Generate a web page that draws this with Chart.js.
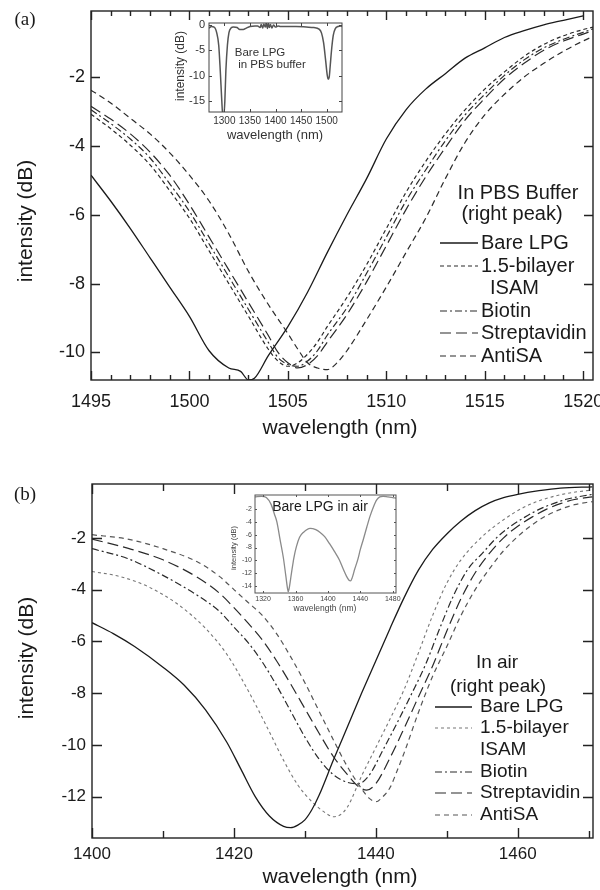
<!DOCTYPE html>
<html>
<head>
<meta charset="utf-8">
<script src="https://cdn.jsdelivr.net/npm/chart.js@4.4.1/dist/chart.umd.min.js"></script>
<style>
  body { margin: 0; background: #fff; }
  #page { position: relative; width: 600px; height: 890px; }
  canvas { position: absolute; }
</style>
</head>
<body>
<div id="page">
  <canvas id="mainA" width="600" height="440" style="left:0;top:0"></canvas>
  <canvas id="mainB" width="600" height="450" style="left:0;top:440px"></canvas>
  <canvas id="insetA" width="200" height="135" style="left:150px;top:10px"></canvas>
  <canvas id="insetB" width="180" height="130" style="left:225px;top:488px"></canvas>
</div>
<script>
const names = ["Bare LPG", "1.5-bilayer\nISAM", "Biotin", "Streptavidin", "AntiSA"];

// (a) in PBS buffer, right peak
const pbsBareWl = [1495, 1496, 1497, 1498, 1499, 1500, 1501, 1502, 1502.6, 1503, 1503.3, 1504, 1505, 1506, 1507, 1508, 1509, 1510, 1511, 1512, 1513, 1514, 1515, 1516, 1517, 1518, 1519, 1520];
const pbsBareDb = [-4.85, -5.6, -6.4, -7.25, -8.1, -8.95, -9.95, -10.45, -10.55, -10.8, -10.75, -10.1, -9.25, -8.25, -7.1, -6.0, -4.95, -3.8, -2.95, -2.35, -1.9, -1.45, -1.15, -0.85, -0.65, -0.48, -0.35, -0.22];

const pbsWl = [1495, 1496, 1497, 1498, 1499, 1500, 1501, 1502, 1503, 1504, 1504.5, 1505, 1505.5, 1506, 1506.5, 1507, 1508, 1509, 1510, 1511, 1512, 1513, 1514, 1515, 1516, 1517, 1518, 1519, 1520, 1520.5];
const pbsIsamDb = [-3.08, -3.5, -3.98, -4.55, -5.3, -6.1, -7.05, -8.0, -8.95, -9.9, -10.25, -10.4, -10.3, -10.05, -9.7, -9.25, -8.4, -7.45, -6.4, -5.35, -4.45, -3.65, -2.95, -2.35, -1.85, -1.4, -1.05, -0.8, -0.62, -0.55];
const pbsBiotinDb = [-2.95, -3.35, -3.8, -4.35, -5.1, -5.9, -6.85, -7.8, -8.75, -9.7, -10.15, -10.35, -10.4, -10.25, -9.95, -9.5, -8.7, -7.7, -6.65, -5.6, -4.7, -3.85, -3.1, -2.5, -1.95, -1.5, -1.15, -0.9, -0.7, -0.6];
const pbsStrepDb = [-2.85, -3.22, -3.65, -4.18, -4.85, -5.7, -6.65, -7.6, -8.55, -9.5, -10.0, -10.3, -10.45, -10.35, -10.1, -9.7, -8.9, -7.95, -6.9, -5.85, -4.9, -4.05, -3.25, -2.62, -2.05, -1.6, -1.22, -0.95, -0.75, -0.65];

const pbsAntiWl = [1495, 1496, 1497, 1498, 1499, 1500, 1501, 1502, 1503, 1504, 1505, 1505.5, 1506, 1506.5, 1507, 1507.5, 1508, 1509, 1510, 1511, 1512, 1513, 1514, 1515, 1516, 1517, 1518, 1519, 1520, 1520.5];
const pbsAntiDb = [-2.38, -2.75, -3.2, -3.65, -4.2, -4.85, -5.6, -6.55, -7.65, -8.6, -9.45, -9.9, -10.3, -10.45, -10.5, -10.3, -9.95, -9.05, -8.1, -7.1, -6.1, -4.95, -3.9, -3.1, -2.5, -2.0, -1.6, -1.25, -0.95, -0.82];

const pbsTicksX = [1495, 1500, 1505, 1510, 1515, 1520];
const pbsTicksY = [-2, -4, -6, -8, -10];

// inset of (a): full spectrum, bare LPG in PBS buffer
const pbsFullWl = [1270, 1275, 1280, 1285, 1289, 1292, 1295, 1297, 1299, 1301, 1303, 1306, 1309, 1313, 1318, 1325, 1330, 1337, 1343, 1350, 1360, 1365, 1370, 1372, 1375, 1377, 1380, 1382, 1384, 1386, 1388, 1390, 1393, 1396, 1400, 1405, 1410, 1420, 1440, 1460, 1475, 1485, 1490, 1494, 1498, 1501, 1503, 1505, 1507, 1510, 1513, 1517, 1522, 1528, 1530];
const pbsFullDb = [-0.6, -0.3, -0.4, -1.5, -4, -9, -15, -18, -18, -15, -9, -4, -1.5, -0.6, -0.4, -0.5, -0.9, -0.9, -0.6, -0.3, -0.2, -0.2, -0.5, 0.1, -0.6, 0.2, -0.4, 0.4, -0.7, 0.3, -0.5, 0.1, -0.6, 0.0, -0.4, -0.2, -0.3, -0.3, -0.3, -0.4, -0.5, -0.8, -1.6, -3.5, -7, -9.8, -10.7, -10.3, -8, -4.5, -2, -0.7, -0.3, -0.2, -0.3];
const pbsFullTicksX = [1300, 1350, 1400, 1450, 1500];
const pbsFullTicksY = [0, -5, -10, -15];

// (b) in air, right peak
const airBareWl = [1400, 1403, 1406, 1410, 1413, 1416, 1419, 1421, 1423, 1425, 1427, 1428, 1429, 1430, 1431, 1432, 1434, 1436, 1438, 1440, 1442, 1444, 1446, 1448, 1450, 1452, 1454, 1456, 1458, 1460, 1463, 1466, 1470.5];
const airBareDb = [-5.28, -5.7, -6.2, -7.0, -7.7, -8.65, -9.9, -10.95, -12.0, -12.75, -13.15, -13.2, -13.1, -12.9, -12.5, -11.95, -10.6, -9.3, -8.0, -6.75, -5.5, -4.3, -3.25, -2.45, -1.85, -1.35, -0.95, -0.65, -0.45, -0.32, -0.18, -0.08, -0.03];

const airIsamWl = [1400, 1404, 1408, 1412, 1416, 1419, 1422, 1425, 1427, 1429, 1431, 1433, 1434, 1435, 1436, 1438, 1440, 1442, 1444, 1446, 1448, 1450, 1452, 1455, 1458, 1461, 1464, 1467, 1470.5];
const airIsamDb = [-3.3, -3.5, -3.9, -4.55, -5.5, -6.5, -7.9, -9.5, -10.6, -11.55, -12.2, -12.65, -12.78, -12.7, -12.4, -11.2, -10.1, -9.0, -7.85, -6.45, -5.0, -3.75, -2.85, -1.95, -1.3, -0.8, -0.48, -0.28, -0.15];

const airBiotinWl = [1400, 1405, 1410, 1415, 1418, 1420, 1422, 1424, 1426, 1428, 1430, 1432, 1434, 1436, 1437.5, 1439, 1441, 1443, 1445, 1447, 1449, 1451, 1453, 1455, 1457, 1459, 1461, 1463, 1465, 1467, 1470.5];
const airBiotinDb = [-2.42, -2.8, -3.45, -4.25, -4.85, -5.45, -6.05, -6.8, -7.7, -8.7, -9.7, -10.55, -11.15, -11.45, -11.5, -11.2, -10.2, -9.15, -8.05, -6.9, -5.5, -4.2, -3.2, -2.6, -2.0, -1.55, -1.2, -0.9, -0.68, -0.5, -0.32];

const airStrepWl = [1400, 1405, 1410, 1415, 1418, 1420, 1422, 1424, 1426, 1428, 1430, 1432, 1434, 1436, 1437.5, 1438.7, 1440, 1442, 1444, 1446, 1448, 1450, 1452, 1454, 1456, 1458, 1460, 1462, 1464, 1466, 1468, 1470.5];
const airStrepDb = [-2.05, -2.4, -2.85, -3.55, -4.15, -4.7, -5.3, -5.95, -6.75, -7.65, -8.6, -9.55, -10.45, -11.15, -11.6, -11.75, -11.5, -10.5, -9.35, -8.15, -6.95, -5.6, -4.35, -3.35, -2.6, -2.0, -1.55, -1.2, -0.9, -0.68, -0.52, -0.42];

const airAntiWl = [1400, 1405, 1410, 1415, 1418, 1420, 1422, 1424, 1426, 1428, 1430, 1432, 1434, 1436, 1438, 1439, 1440, 1441, 1442, 1443, 1444, 1446, 1448, 1450, 1452, 1454, 1456, 1458, 1460, 1462, 1464, 1466, 1468, 1470.5];
const airAntiDb = [-1.88, -2.05, -2.42, -2.95, -3.5, -4.0, -4.5, -5.0, -5.7, -6.6, -7.6, -8.7, -9.8, -10.85, -11.7, -12.05, -12.2, -12.0, -11.65, -11.0, -10.3, -8.75, -7.35, -6.2, -5.0, -4.0, -3.2, -2.5, -1.95, -1.5, -1.15, -0.9, -0.72, -0.6];

const airTicksX = [1400, 1420, 1440, 1460];
const airTicksY = [-2, -4, -6, -8, -10, -12];

// inset of (b): bare LPG in air, both peaks
const airFullWl = [1310, 1318, 1324, 1330, 1334, 1337, 1341, 1345, 1348, 1350, 1351, 1352, 1355, 1358, 1361, 1365, 1370, 1378, 1385, 1390, 1396, 1402, 1408, 1414, 1419, 1423, 1426, 1428, 1430, 1433, 1437, 1440, 1444, 1448, 1452, 1456, 1460, 1464, 1468, 1474, 1480, 1484];
const airFullDb = [-0.1, 0.0, -0.2, -1.3, -2.8, -4.0, -6.8, -9.6, -12.4, -14.3, -14.9, -14.5, -12.0, -9.6, -7.9, -6.4, -5.6, -5.0, -5.2, -5.6, -6.3, -7.4, -8.6, -9.9, -11.4, -12.5, -13.1, -13.2, -12.7, -11.4, -9.8, -8.3, -6.6, -4.8, -3.1, -1.7, -0.6, -0.1, 0.0, -0.1, -0.2, -0.3];
const airFullTicksX = [1320, 1360, 1400, 1440, 1480];
const airFullTicksY = [-2, -4, -6, -8, -10, -12, -14];

const FONT = "'Liberation Sans', Arial, sans-serif";
const INK = "#1a1a1a";

function pts(wl, db) {
  return wl.map((w, i) => ({ x: w, y: db[i] }));
}

function lineSet(label, wl, db, color, width, dash) {
  return {
    label: label,
    data: pts(wl, db),
    borderColor: color,
    borderWidth: width,
    borderDash: dash,
    pointRadius: 0,
    fill: false,
    cubicInterpolationMode: "monotone"
  };
}

// box round the plot with inward ticks on all four sides
const frameTicks = {
  id: "frameTicks",
  afterDraw(chart, args, o) {
    const { ctx, chartArea: a } = chart;
    const x = chart.scales.x, y = chart.scales.y;
    ctx.save();
    ctx.strokeStyle = o.color;
    ctx.lineWidth = o.width;
    ctx.strokeRect(a.left, a.top, a.right - a.left, a.bottom - a.top);
    ctx.beginPath();
    const marks = [];
    o.xMajor.forEach(v => marks.push([v, o.major]));
    if (o.xStep) {
      for (let v = Math.ceil(x.min / o.xStep) * o.xStep; v <= x.max; v += o.xStep) {
        if (!o.xMajor.includes(v)) marks.push([v, o.minor]);
      }
    }
    marks.forEach(([v, len]) => {
      const px = Math.round(x.getPixelForValue(v)) + 0.5;
      ctx.moveTo(px, a.bottom); ctx.lineTo(px, a.bottom - len);
      ctx.moveTo(px, a.top); ctx.lineTo(px, a.top + len);
    });
    o.yMajor.forEach(v => {
      const py = Math.round(y.getPixelForValue(v)) + 0.5;
      ctx.moveTo(a.left, py); ctx.lineTo(a.left + o.major, py);
      ctx.moveTo(a.right, py); ctx.lineTo(a.right - o.major, py);
    });
    ctx.stroke();
    ctx.restore();
  }
};

// free text: panel letters, axis titles, inset notes
const notes = {
  id: "notes",
  afterDraw(chart, args, o) {
    const ctx = chart.ctx;
    ctx.save();
    ctx.textBaseline = "middle";
    (o.items || []).forEach(n => {
      ctx.save();
      ctx.fillStyle = n.color || INK;
      ctx.font = n.size + "px " + (n.family || FONT);
      ctx.textAlign = n.align || "center";
      ctx.translate(n.x, n.y);
      if (n.rot) ctx.rotate(n.rot);
      ctx.fillText(n.t, 0, 0);
      ctx.restore();
    });
    ctx.restore();
  }
};

// key drawn inside the plot, samples taken from the datasets
const keyBox = {
  id: "keyBox",
  afterDraw(chart, args, o) {
    if (!o.rows) return;
    const ctx = chart.ctx;
    ctx.save();
    ctx.font = o.size + "px " + FONT;
    ctx.fillStyle = INK;
    ctx.textBaseline = "middle";
    o.heads.forEach(h => {
      ctx.textAlign = "center";
      ctx.fillText(h.t, h.x, h.y);
    });
    o.rows.forEach((r, i) => {
      const ds = chart.data.datasets[i];
      ctx.save();
      ctx.strokeStyle = ds.borderColor;
      ctx.lineWidth = ds.borderWidth;
      ctx.setLineDash(ds.borderDash || []);
      ctx.beginPath();
      ctx.moveTo(o.x0, r);
      ctx.lineTo(o.x1, r);
      ctx.stroke();
      ctx.restore();
      ctx.textAlign = "left";
      ds.label.split("\n").forEach((line, k) => {
        ctx.fillText(line, o.tx + (k ? o.indent : 0), r + k * o.lh);
      });
    });
    ctx.restore();
  }
};

Chart.register(frameTicks, notes, keyBox);

function fixedTicks(list) {
  return s => { s.ticks = list.map(v => ({ value: v })); };
}

function plotOptions(p) {
  return {
    responsive: false,
    animation: false,
    events: [],
    layout: { padding: { left: 0, right: p.padRight, top: p.padTop, bottom: 0 } },
    plugins: {
      legend: { display: false },
      tooltip: { enabled: false },
      frameTicks: p.frame,
      notes: { items: p.notes },
      keyBox: p.key || {}
    },
    scales: {
      x: {
        type: "linear",
        min: p.xMin, max: p.xMax,
        grid: { display: false, drawTicks: false },
        border: { display: false },
        afterBuildTicks: fixedTicks(p.ticksX),
        afterFit: s => { s.height = p.xHeight; s.paddingLeft = 0; s.paddingRight = 0; },
        ticks: {
          font: { family: FONT, size: p.tickSizeX }, color: p.tickColor, padding: p.xPad,
          maxRotation: 0, autoSkip: false, callback: v => String(v)
        }
      },
      y: {
        type: "linear",
        min: p.yMin, max: p.yMax,
        grid: { display: false, drawTicks: false },
        border: { display: false },
        afterBuildTicks: fixedTicks(p.ticksY),
        afterFit: s => { s.width = p.yWidth; s.paddingTop = 0; s.paddingBottom = 0; },
        ticks: {
          font: { family: FONT, size: p.tickSizeY }, color: p.tickColor, padding: p.yPad,
          autoSkip: false, callback: v => String(v)
        }
      }
    }
  };
}

// panel (a)
new Chart(document.getElementById("mainA"), {
  type: "line",
  data: {
    datasets: [
      lineSet(names[0], pbsBareWl, pbsBareDb, "#1a1a1a", 1.3, []),
      lineSet(names[1], pbsWl, pbsIsamDb, "#2a2a2a", 1.2, [4, 3]),
      lineSet(names[2], pbsWl, pbsBiotinDb, "#2a2a2a", 1.2, [7, 3, 2, 3]),
      lineSet(names[3], pbsWl, pbsStrepDb, "#2a2a2a", 1.2, [11, 5]),
      lineSet(names[4], pbsAntiWl, pbsAntiDb, "#2a2a2a", 1.2, [6, 4])
    ]
  },
  options: plotOptions({
    xMin: 1495, xMax: 1520.5, yMin: -10.8, yMax: -0.08,
    ticksX: pbsTicksX, ticksY: pbsTicksY,
    padRight: 7, padTop: 11, xHeight: 60, yWidth: 91,
    tickSizeX: 18, tickSizeY: 18, tickColor: INK, xPad: 11, yPad: 6,
    frame: { xMajor: pbsTicksX, xStep: 1, yMajor: pbsTicksY, major: 9, minor: 5, color: "#222", width: 1.4 },
    notes: [
      { t: "(a)", x: 25, y: 20, size: 19, family: "'Liberation Serif', 'Times New Roman', serif" },
      { t: "intensity (dB)", x: 26, y: 221, size: 21, rot: -Math.PI / 2 },
      { t: "wavelength (nm)", x: 340, y: 428, size: 21 }
    ],
    key: {
      size: 20, x0: 440, x1: 478, tx: 481, indent: 9, lh: 22,
      heads: [{ t: "In PBS Buffer", x: 518, y: 193 }, { t: "(right peak)", x: 512, y: 214 }],
      rows: [243, 266, 311, 333, 356]
    }
  })
});

// inset of (a)
new Chart(document.getElementById("insetA"), {
  type: "line",
  data: { datasets: [lineSet("Bare LPG in PBS buffer", pbsFullWl, pbsFullDb, "#555", 1.5, [])] },
  options: plotOptions({
    xMin: 1270, xMax: 1530, yMin: -17.2, yMax: 0.4,
    ticksX: pbsFullTicksX, ticksY: pbsFullTicksY,
    padRight: 8, padTop: 13, xHeight: 33, yWidth: 59,
    tickSizeX: 10, tickSizeY: 11, tickColor: "#333", xPad: 3, yPad: 4,
    frame: { xMajor: pbsFullTicksX, xStep: 0, yMajor: pbsFullTicksY, major: 3, minor: 2, color: "#444", width: 1 },
    notes: [
      { t: "Bare LPG", x: 110, y: 43, size: 11.5, color: "#333" },
      { t: "in PBS buffer", x: 122, y: 55, size: 11.5, color: "#333" },
      { t: "intensity (dB)", x: 31, y: 56, size: 12, rot: -Math.PI / 2, color: "#333" },
      { t: "wavelength (nm)", x: 125, y: 125, size: 13, color: "#333" }
    ]
  })
});

// panel (b)
new Chart(document.getElementById("mainB"), {
  type: "line",
  data: {
    datasets: [
      lineSet(names[0], airBareWl, airBareDb, "#1a1a1a", 1.3, []),
      lineSet(names[1], airIsamWl, airIsamDb, "#777", 1.1, [3, 3]),
      lineSet(names[2], airBiotinWl, airBiotinDb, "#2a2a2a", 1.2, [7, 3, 2, 3]),
      lineSet(names[3], airStrepWl, airStrepDb, "#2a2a2a", 1.2, [11, 5]),
      lineSet(names[4], airAntiWl, airAntiDb, "#555", 1.2, [5, 4])
    ]
  },
  options: plotOptions({
    xMin: 1400, xMax: 1470.6, yMin: -13.6, yMax: 0.08,
    ticksX: airTicksX, ticksY: airTicksY,
    padRight: 7, padTop: 44, xHeight: 52, yWidth: 92,
    tickSizeX: 17, tickSizeY: 17, tickColor: INK, xPad: 6, yPad: 6,
    frame: { xMajor: airTicksX, xStep: 10, yMajor: airTicksY, major: 10, minor: 7, color: "#222", width: 1.4 },
    notes: [
      { t: "(b)", x: 25, y: 55, size: 19, family: "'Liberation Serif', 'Times New Roman', serif" },
      { t: "intensity (dB)", x: 27, y: 218, size: 21, rot: -Math.PI / 2 },
      { t: "wavelength (nm)", x: 340, y: 437, size: 21 }
    ],
    key: {
      size: 19, x0: 435, x1: 472, tx: 480, indent: 0, lh: 22,
      heads: [{ t: "In air", x: 497, y: 223 }, { t: "(right peak)", x: 498, y: 247 }],
      rows: [267, 288, 332, 353, 375]
    }
  })
});

// inset of (b)
new Chart(document.getElementById("insetB"), {
  type: "line",
  data: { datasets: [lineSet("Bare LPG in air", airFullWl, airFullDb, "#8a8a8a", 1.3, [])] },
  options: plotOptions({
    xMin: 1310, xMax: 1484, yMin: -15.1, yMax: 0.2,
    ticksX: airFullTicksX, ticksY: airFullTicksY,
    padRight: 9, padTop: 7, xHeight: 25, yWidth: 30,
    tickSizeX: 7, tickSizeY: 7, tickColor: "#444", xPad: 2, yPad: 3,
    frame: { xMajor: airFullTicksX, xStep: 0, yMajor: airFullTicksY, major: 2, minor: 1, color: "#555", width: 1 },
    notes: [
      { t: "Bare LPG in air", x: 95, y: 19, size: 14 },
      { t: "intensity (dB)", x: 9, y: 60, size: 7.5, rot: -Math.PI / 2, color: "#444" },
      { t: "wavelength (nm)", x: 100, y: 121, size: 8.5, color: "#444" }
    ]
  })
});
</script>
</body>
</html>
